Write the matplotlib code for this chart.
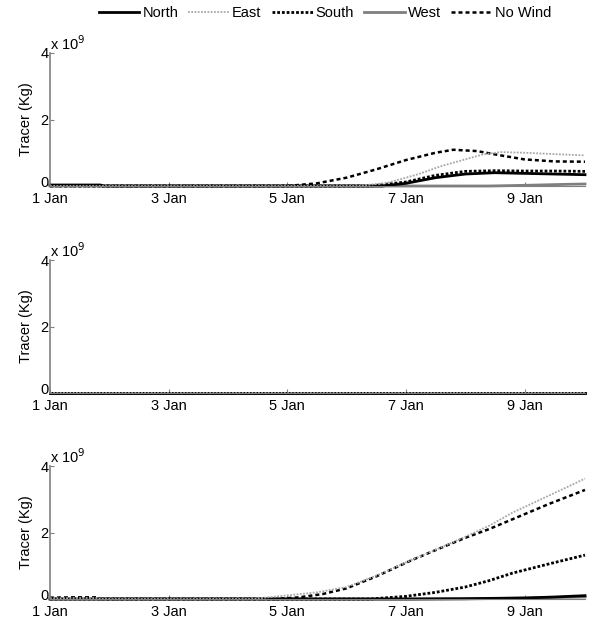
import matplotlib
matplotlib.use("Agg")
from matplotlib import pyplot as plt
from matplotlib.transforms import ScaledTranslation

plt.rcParams['font.family'] = ['Liberation Sans', 'DejaVu Sans']
plt.rcParams['font.size'] = 10

# days since 1 Jan, values in 1e9 kg
series_names = ["North", "East", "South", "West", "No Wind"]
tick_days = [0, 2, 4, 6, 8]
tick_labels = ["1 Jan", "3 Jan", "5 Jan", "7 Jan", "9 Jan"]

# panel 1
p1_north_t = [0, 0.85, 0.9, 5.6, 6.0, 6.5, 7.0, 7.5, 8.0, 8.5, 9.02]
p1_north_v = [0.03, 0.03, 0, 0, 0.08, 0.25, 0.36, 0.40, 0.38, 0.36, 0.34]
p1_east_t = [0, 5.2, 5.7, 6.2, 6.6, 7.0, 7.3, 7.6, 8.0, 8.5, 9.02]
p1_east_v = [0, 0, 0.1, 0.35, 0.6, 0.8, 0.95, 1.02, 1.0, 0.96, 0.92]
p1_south_t = [0, 5.4, 6.0, 6.5, 7.0, 7.5, 8.0, 8.5, 9.02]
p1_south_v = [0, 0, 0.12, 0.32, 0.44, 0.46, 0.45, 0.45, 0.44]
p1_west_t = [0, 7.4, 8.0, 8.7, 9.02]
p1_west_v = [0, 0, 0.02, 0.05, 0.06]
p1_nowind_t = [0, 4.0, 4.5, 5.0, 5.5, 6.0, 6.5, 6.8, 7.2, 7.6, 8.0, 8.5, 9.02]
p1_nowind_v = [0, 0, 0.08, 0.25, 0.5, 0.78, 1.0, 1.09, 1.05, 0.92, 0.8, 0.74, 0.73]

# panel 2 (all zero)
p2_t = [0, 9.02]
p2_v = [0, 0]

# panel 3
p3_north_t = [0, 6.0, 7.0, 8.0, 8.5, 9.02]
p3_north_v = [0, 0, 0.01, 0.03, 0.06, 0.1]
p3_east_t = [0, 0.4, 0.8, 0.85, 3.4, 3.9, 4.5, 5.0, 5.5, 6.1, 6.5, 7.0, 7.4, 7.8, 8.4, 9.02]
p3_east_v = [0.02, 0.03, 0.03, 0, 0, 0.09, 0.2, 0.36, 0.7, 1.18, 1.48, 1.87, 2.2, 2.6, 3.1, 3.62]
p3_south_t = [0, 5.4, 6.0, 6.5, 7.0, 7.4, 7.8, 8.4, 9.02]
p3_south_v = [0, 0, 0.08, 0.2, 0.36, 0.55, 0.78, 1.05, 1.32]
p3_west_t = [0, 7.0, 8.0, 9.02]
p3_west_v = [0, 0, 0.03, 0.06]
p3_nowind_t = [0, 0.4, 0.8, 0.85, 3.8, 4.2, 4.6, 5.0, 5.5, 6.1, 6.5, 7.0, 7.4, 7.8, 8.4, 9.02]
p3_nowind_v = [0.04, 0.05, 0.05, 0, 0, 0.05, 0.15, 0.32, 0.68, 1.17, 1.47, 1.84, 2.1, 2.4, 2.85, 3.28]

styles = {
    "North": dict(color="black", lw=2.0, ls="-"),
    "East": dict(color="#a8a8a8", lw=1.3, ls=(0, (1, 0.8))),
    "South": dict(color="black", lw=2.0, ls=(0, (1, 0.7))),
    "West": dict(color="#7f7f7f", lw=2.0, ls="-"),
    "No Wind": dict(color="black", lw=1.8, ls=(0, (1.6, 1.2))),
}

panels = [
    {"North": (p1_north_t, p1_north_v), "East": (p1_east_t, p1_east_v),
     "South": (p1_south_t, p1_south_v), "West": (p1_west_t, p1_west_v),
     "No Wind": (p1_nowind_t, p1_nowind_v)},
    {name: (p2_t, p2_v) for name in series_names},
    {"North": (p3_north_t, p3_north_v), "East": (p3_east_t, p3_east_v),
     "South": (p3_south_t, p3_south_v), "West": (p3_west_t, p3_west_v),
     "No Wind": (p3_nowind_t, p3_nowind_v)},
]

fig = plt.figure(figsize=(5.92, 6.18), dpi=100)
bottoms = [1 - 186 / 618, 1 - 393 / 618, 1 - 599 / 618]
left = 50 / 592
width = 535 / 592
height = 133 / 618

draw_order = ["West", "North", "South", "No Wind", "East"]
handles = {}
for i, data in enumerate(panels):
    ax = fig.add_axes([left, bottoms[i], width, height])
    # zero-ish lines first so visible ones sit on top
    for name in draw_order:
        t, v = data[name]
        ln, = ax.plot(t, v, label=name, clip_on=False, **styles[name])
        if i == 0:
            handles[name] = ln
    ax.set_xlim(0, 9.02)
    ax.set_ylim(0, 4)
    ax.set_yticks([0, 2, 4])
    ax.set_xticks(tick_days)
    ax.set_xticklabels(tick_labels)
    ax.spines['top'].set_visible(False)
    ax.spines['right'].set_visible(False)
    ax.spines['left'].set_color("#808080")
    ax.spines['bottom'].set_color("#808080")
    ax.spines['left'].set_linewidth(1.2)
    ax.tick_params(direction='in', length=3, color="#808080", labelsize=10.5)
    ax.tick_params(axis='x', pad=4)
    ax.tick_params(axis='y', pad=1)
    # lift the "0" label a little so it sits above "1 Jan"
    lab0 = ax.get_yticklabels()[0]
    lab0.set_transform(lab0.get_transform() + ScaledTranslation(0, 3 / 72, fig.dpi_scale_trans))
    ax.set_ylabel("Tracer (Kg)", fontsize=10.5, labelpad=5)
    ax.text(0.0, 1.0, r"x 10$^{9}$", transform=ax.transAxes, ha='left', va='bottom',
            fontsize=10.5)

fig.legend([handles[n] for n in series_names], series_names, loc='upper center',
           bbox_to_anchor=(325 / 592, 1.012), ncol=5, frameon=False,
           handlelength=2.8, handletextpad=0.2, columnspacing=0.7, fontsize=10.5)

fig.savefig("out.png", dpi=100)
